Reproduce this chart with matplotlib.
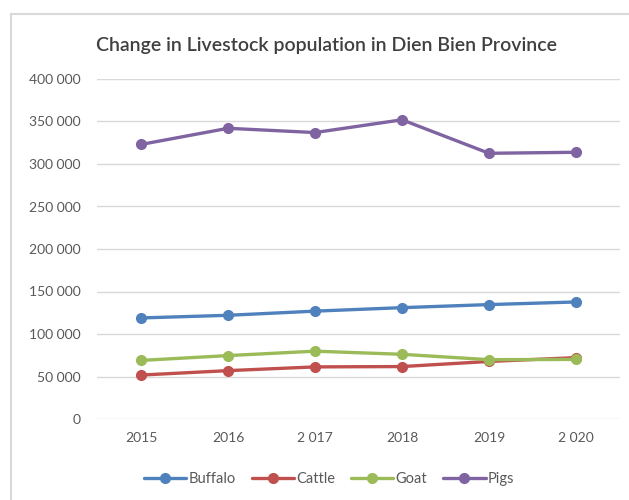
import matplotlib.pyplot as plt
from matplotlib.lines import Line2D

# Livestock head counts, Dien Bien Province
years = ["2015", "2016", "2 017", "2018", "2019", "2 020"]
buffalo = [118900, 122000, 126900, 131000, 134600, 137700]
cattle = [51700, 56900, 61300, 61700, 67700, 72200]
goat = [68900, 74600, 79800, 76100, 69800, 70100]
pigs = [323000, 342000, 337000, 352000, 312600, 313800]

series = [
    ("Buffalo", buffalo, "#4F81BD"),
    ("Cattle", cattle, "#C0504D"),
    ("Goat", goat, "#9BBB59"),
    ("Pigs", pigs, "#8064A2"),
]

plt.rcParams["font.family"] = ["Lato", "DejaVu Sans"]

fig = plt.figure(figsize=(6.29, 5.0), dpi=100)
ax = fig.add_axes([0.155, 0.162, 0.83, 0.68])

x = list(range(len(years)))
for name, vals, color in series:
    ax.plot(x, vals, color=color, linewidth=2.4, marker="o", markersize=7,
            label=name, solid_capstyle="round")

ax.set_xlim(-0.5, len(years) - 0.5)
ax.set_ylim(0, 400000)
ax.set_yticks(range(0, 400001, 50000))
ax.set_yticklabels(["0"] + [f"{v // 1000} 000" for v in range(50000, 400001, 50000)])
ax.set_xticks(x)
ax.set_xticklabels(years)
ax.grid(axis="y", color="#D9D9D9", linewidth=1)
ax.set_axisbelow(True)
for s in ax.spines.values():
    s.set_visible(False)
ax.tick_params(length=0, labelsize=10, labelcolor="#595959")
ax.tick_params(axis="y", pad=12)
ax.tick_params(axis="x", pad=9)

fig.text(0.519, 0.91, "Change in Livestock population in Dien Bien Province",
         ha="center", va="center", fontsize=14, color="#404040", fontweight="semibold")

fig.legend(loc="center", bbox_to_anchor=(329 / 629, 1 - 479 / 500), ncol=4, frameon=False,
           fontsize=10.5, labelcolor="#595959", handlelength=2.9, handletextpad=0.15,
           columnspacing=1.1)

# chart frame
fig.add_artist(Line2D([11 / 629, 11 / 629], [0, 1 - 14 / 500], color="#D9D9D9", linewidth=1.5))
fig.add_artist(Line2D([11 / 629, 1], [1 - 14 / 500, 1 - 14 / 500], color="#D9D9D9", linewidth=1.5))

fig.savefig("out.png", dpi=100)
